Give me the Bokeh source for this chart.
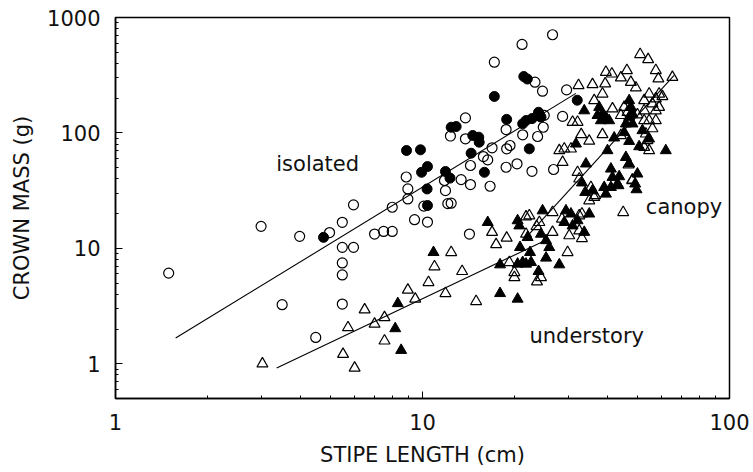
from bokeh.plotting import figure
from bokeh.models import Range1d, FixedTicker, CustomJSTickFormatter
from bokeh.embed import file_html
from bokeh.resources import INLINE
from bokeh.core.properties import value

# ---------------- data (stipe length cm, crown mass g) ----------------
iso_open_x = [1.49, 2.98, 3.49, 3.98, 4.49, 4.98, 5.48, 5.48, 5.96, 5.48, 5.48, 5.48, 5.96, 6.98,
              7.47, 7.97, 7.97, 8.96, 8.96, 8.85, 9.42, 10.38, 10.1, 11.88, 12.09, 11.79, 12.33,
              13.8, 13.8, 13.36, 14.33, 14.33, 16.6, 14.22, 15.79, 16.31, 16.85, 18.72, 18.8,
              19.28, 18.72, 20.32, 21.2, 23.71, 24.74, 24.92, 22.73, 26.73, 28.6, 29.47, 23.25,
              24.6, 17.14, 21.1, 26.52, 12.4]
iso_open_y = [6.1, 15.5, 3.25, 12.7, 1.69, 13.7, 16.8, 10.2, 10.2, 7.47, 5.88, 3.29, 23.8, 13.3,
              14.0, 14.0, 22.7, 26.8, 32.7, 41.5, 17.7, 16.9, 23.2, 31.6, 24.4, 38.7, 94,
              135, 88.9, 39.4, 35.7, 52.2, 34.5, 13.3, 62.4, 58.4, 74.3, 107, 72.8,
              77.8, 50.4, 54, 96.3, 93.1, 112, 142, 46.5, 48.2, 139, 236, 275,
              230, 410, 584, 709, 24.6]

iso_fill_x = [4.76, 8.87, 9.85, 10.38, 9.93, 10.35, 10.38, 11.88, 12.29, 12.4, 12.87, 14.58,
              15.25, 15.3, 14.4, 15.91, 17.14, 21.38, 21.95, 18.8, 21.2, 21.74, 22.73, 23.71,
              24.32, 23.88, 22.28, 31.92]
iso_fill_y = [12.45, 70.4, 71.4, 51.1, 45.6, 32.7, 23.5, 46.3, 40.6, 112, 113.6, 95,
              91.8, 83.1, 66.7, 45.6, 207, 308, 293, 131, 120, 128, 133, 142,
              137, 151, 72.8, 192]

tri_open_x = [3.01, 5.51, 6.01, 5.72, 6.48, 6.98, 7.52, 7.52, 8.96, 9.47, 10.46, 10.94, 11.88,
              12.4, 13.46, 14.95, 16.85, 17.37, 18.8, 21.74, 22.28, 26.52, 24.02, 23.53, 21.74,
              19.18, 19.92, 19.92, 24.32, 23.6, 26.52, 29.69, 30.06, 28.47, 32.4, 33.06, 33.06,
              35.37, 36.52, 45.05, 48.19, 51.16, 54.33, 46.32, 39.57, 41.39, 44.28, 47.72, 57.54,
              58.67, 65.16, 32.23, 35.79, 39.36, 49.55, 38.57, 36.25, 54.73, 58.97, 60.46, 57.54,
              52.72, 56.1, 58.97, 52.72, 57.54, 50.13, 54.73, 57.54, 52.72, 56.1, 41.58, 45.39,
              46.52, 44.28, 30.82, 31.99, 32.89, 34.92, 38.57, 44.28, 52.72, 54.73, 53.4, 54.04,
              27.9, 28.96, 30.45, 28.6, 46.88, 48.3, 31.99, 32.4, 36.25, 34.92, 32.4]
tri_open_y = [1.0, 1.21, 0.92, 2.06, 2.94, 2.21, 2.52, 1.58, 4.36, 3.64, 5.07, 6.94, 4.07,
              9.23, 6.32, 3.47, 13.8, 10.8, 12.3, 18.8, 19.2, 20.5, 16.8, 15.5, 13.3,
              7.56, 6.19, 5.6, 5.6, 5.14, 13.8, 9.23, 12.9, 18.0, 14.2, 12.2, 19.9,
              33.8, 28.7, 20.5, 38.7, 479, 433, 348, 336, 325, 301, 275, 348,
              295, 304, 258, 263, 267, 246, 218, 191, 218, 218, 207, 198,
              191, 179, 167, 156, 156, 144, 128, 128, 128, 109, 162, 167,
              151, 142, 124, 124, 96.9, 85.1, 96.9, 95, 75.2, 70.4, 98.2, 85.9,
              70.4, 72.8, 72.8, 55.7, 52.9, 39.2, 45.6, 40, 27.7, 25.9, 19.2]

tri_fill_x = [8.15, 8.52, 8.31, 10.86, 17.89, 20.41, 16.31, 20.41, 20.67, 24.61, 22.0, 20.78,
              22.4, 21.2, 20.41, 21.74, 22.57, 17.89, 23.88, 24.32, 25.26, 25.88, 25.26, 27.9,
              29.33, 28.96, 30.45, 30.82, 31.99, 33.64, 34.92, 33.06, 33.89, 35.79, 39.07, 39.57,
              43.16, 41.09, 43.49, 49.29, 49.77, 41.09, 43.72, 41.58, 50.13, 45.97, 47.12, 34.07,
              40.05, 31.61, 42.11, 47.12, 52.05, 54.73, 45.39, 50.78, 62.02, 33.64, 37.63, 38.57,
              37.16, 39.57, 38.11, 40.56, 47.72, 48.3, 45.97, 48.3, 47.12, 47.12]
tri_fill_y = [2.02, 1.31, 3.33, 9.23, 4.07, 3.64, 16.8, 17.4, 15.7, 21.2, 12.45, 10.2,
              9.23, 7.56, 7.32, 7.32, 7.56, 7.22, 6.32, 13.3, 11.7, 10.2, 8.26, 7.22,
              21.2, 16.8, 19.9, 15.7, 17.4, 13.8, 19.9, 37, 30.6, 31.6, 33.8, 29.6,
              36.2, 33.8, 35.0, 36.2, 32.3, 48.8, 41.9, 41.3, 44.2, 61.5, 54, 54,
              70.4, 80.4, 90.7, 84.7, 105, 88.9, 101, 76.2, 70.4, 156, 167, 146,
              142, 137, 128, 128, 167, 146, 120, 120, 137, 191]

# fitted regression lines (end points)
iso_fit_x = [1.57, 31.6]
iso_fit_y = [1.67, 220]
und_fit_x = [3.35, 24.6]
und_fit_y = [0.92, 11.4]
can_fit_x = [21.5, 66.0]
can_fit_y = [12.0, 315]

labels_text = ["isolated", "canopy", "understory"]
labels_x = [3.34, 53.4, 22.3]
labels_y = [54.0, 22.7, 1.75]

x_major = [1, 10, 100]
y_major = [1, 10, 100, 1000]

FONT = "DejaVu Sans"

p = figure(width=753, height=472, x_axis_type="log", y_axis_type="log",
           x_range=Range1d(1, 100), y_range=Range1d(0.5, 1000),
           output_backend="svg", toolbar_location=None,
           min_border_left=115, min_border_right=24, min_border_top=17, min_border_bottom=74)

p.background_fill_color = "white"
p.border_fill_color = "white"
p.xgrid.visible = False
p.ygrid.visible = False
p.outline_line_color = "black"
p.outline_line_width = 1.5

x_minor = [m * d for d in (1, 10) for m in range(2, 10)]
y_minor = [0.5, 0.6, 0.7, 0.8, 0.9] + [m * d for d in (1, 10, 100) for m in range(2, 10)]
p.xaxis.ticker = FixedTicker(ticks=x_major, minor_ticks=x_minor)
p.yaxis.ticker = FixedTicker(ticks=y_major, minor_ticks=y_minor)
fmt = CustomJSTickFormatter(code="return String(tick);")
for ax in (p.xaxis[0], p.yaxis[0]):
    ax.formatter = CustomJSTickFormatter(code="return String(tick);")
    ax.major_tick_in = 7
    ax.major_tick_out = 0
    ax.minor_tick_in = 3
    ax.minor_tick_out = 0
    ax.axis_line_color = "black"
    ax.axis_line_width = 1.5
    ax.major_tick_line_color = "black"
    ax.minor_tick_line_color = "black"
    ax.major_label_text_font = FONT
    ax.major_label_text_font_size = "21px"
    ax.major_label_text_color = "#111111"
    ax.major_label_standoff = 15
    ax.axis_label_text_font = FONT
    ax.axis_label_text_font_size = "21px"
    ax.axis_label_text_font_style = "normal"
    ax.axis_label_text_color = "#111111"
    ax.axis_label_standoff = 10

p.xaxis.axis_label = "STIPE LENGTH (cm)"
p.yaxis.axis_label = "CROWN MASS (g)"

# regression lines
p.line(iso_fit_x, iso_fit_y, line_color="black", line_width=1.1)
p.line(und_fit_x, und_fit_y, line_color="black", line_width=1.1)
p.line(can_fit_x, can_fit_y, line_color="black", line_width=1.1)

# markers
p.scatter(tri_open_x, tri_open_y, marker="triangle", size=11, fill_color=None,
          line_color="black", line_width=1.2)
p.scatter(tri_fill_x, tri_fill_y, marker="triangle", size=11, fill_color="black",
          line_color="black", line_width=1.0)
p.scatter(iso_open_x, iso_open_y, marker="circle", size=10, fill_color=None,
          line_color="black", line_width=1.2)
p.scatter(iso_fill_x, iso_fill_y, marker="circle", size=10, fill_color="black",
          line_color="black", line_width=1.0)

p.text(labels_x, labels_y, text=labels_text, text_font=value(FONT), text_font_size="21px",
       text_color="#111111", text_align="left", text_baseline="alphabetic")

open("out.html", "w").write(file_html(p, INLINE))
